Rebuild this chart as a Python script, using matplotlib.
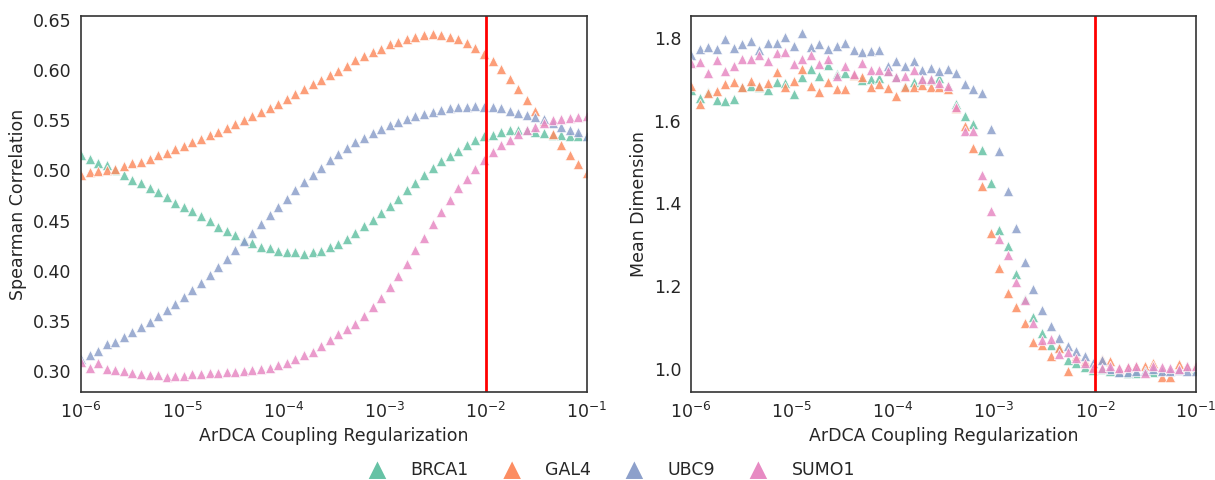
import numpy as np
import matplotlib
matplotlib.use("Agg")
from matplotlib import pyplot as plt
import seaborn as sns

sns.set_style("white")
plt.rcParams['font.family'] = ['DejaVu Sans']

# regularization grid (60 values, 1e-6 .. 1e-1)
reg = np.logspace(-6, -1, 60)

proteins = ["BRCA1", "GAL4", "UBC9", "SUMO1"]

# Spearman correlation (left panel)
spear_brca1 = [0.515, 0.511, 0.507, 0.505, 0.500, 0.495, 0.490, 0.487, 0.482, 0.478,
               0.474, 0.468, 0.464, 0.460, 0.455, 0.450, 0.444, 0.440, 0.436, 0.431,
               0.428, 0.424, 0.423, 0.420, 0.419, 0.419, 0.417, 0.419, 0.420, 0.424,
               0.427, 0.432, 0.438, 0.445, 0.451, 0.458, 0.465, 0.472, 0.480, 0.487,
               0.495, 0.502, 0.509, 0.514, 0.519, 0.525, 0.530, 0.534, 0.535, 0.538,
               0.540, 0.540, 0.540, 0.538, 0.537, 0.535, 0.535, 0.534, 0.534, 0.534]
spear_gal4 = [0.495, 0.498, 0.499, 0.500, 0.501, 0.504, 0.507, 0.508, 0.511, 0.515,
              0.517, 0.521, 0.524, 0.528, 0.531, 0.535, 0.538, 0.542, 0.546, 0.550,
              0.554, 0.558, 0.562, 0.566, 0.571, 0.576, 0.581, 0.586, 0.590, 0.595,
              0.599, 0.604, 0.610, 0.614, 0.618, 0.621, 0.626, 0.628, 0.631, 0.633,
              0.635, 0.636, 0.635, 0.633, 0.631, 0.627, 0.622, 0.616, 0.609, 0.601,
              0.591, 0.581, 0.570, 0.559, 0.549, 0.536, 0.525, 0.515, 0.506, 0.497]
spear_ubc9 = [0.312, 0.316, 0.320, 0.327, 0.329, 0.334, 0.339, 0.344, 0.349, 0.355,
              0.361, 0.367, 0.374, 0.381, 0.388, 0.396, 0.404, 0.412, 0.421, 0.430,
              0.438, 0.447, 0.456, 0.464, 0.472, 0.480, 0.488, 0.495, 0.502, 0.510,
              0.516, 0.522, 0.528, 0.532, 0.537, 0.541, 0.545, 0.548, 0.551, 0.554,
              0.556, 0.558, 0.560, 0.562, 0.563, 0.563, 0.564, 0.563, 0.563, 0.562,
              0.559, 0.557, 0.555, 0.553, 0.551, 0.547, 0.543, 0.540, 0.538, 0.534]
spear_sumo1 = [0.309, 0.303, 0.308, 0.302, 0.301, 0.300, 0.298, 0.297, 0.296, 0.296,
               0.294, 0.295, 0.295, 0.297, 0.297, 0.298, 0.298, 0.299, 0.299, 0.300,
               0.301, 0.302, 0.303, 0.306, 0.308, 0.312, 0.316, 0.319, 0.325, 0.331,
               0.337, 0.342, 0.347, 0.355, 0.364, 0.373, 0.384, 0.395, 0.407, 0.421,
               0.433, 0.447, 0.459, 0.471, 0.482, 0.491, 0.501, 0.510, 0.518, 0.525,
               0.530, 0.536, 0.540, 0.543, 0.547, 0.550, 0.551, 0.552, 0.553, 0.554]

# Mean dimension (right panel)
dim_brca1 = [1.674, 1.654, 1.670, 1.650, 1.648, 1.653, 1.681, 1.684, 1.682, 1.674,
             1.694, 1.691, 1.665, 1.706, 1.724, 1.708, 1.735, 1.713, 1.715, 1.711,
             1.698, 1.701, 1.704, 1.719, 1.706, 1.684, 1.694, 1.698, 1.698, 1.703,
             1.684, 1.640, 1.611, 1.592, 1.529, 1.450, 1.336, 1.296, 1.230, 1.170,
             1.125, 1.086, 1.058, 1.054, 1.022, 1.014, 1.005, 0.998, 1.000, 0.995,
             0.992, 0.990, 0.990, 0.995, 0.993, 0.997, 0.997, 1.003, 1.008, 1.000]
dim_gal4 = [1.684, 1.640, 1.668, 1.672, 1.688, 1.693, 1.682, 1.696, 1.684, 1.691,
            1.717, 1.681, 1.696, 1.724, 1.685, 1.669, 1.693, 1.676, 1.677, 1.711,
            1.706, 1.682, 1.689, 1.680, 1.660, 1.681, 1.681, 1.686, 1.681, 1.681,
            1.676, 1.630, 1.587, 1.535, 1.443, 1.329, 1.243, 1.184, 1.149, 1.112,
            1.066, 1.058, 1.032, 1.051, 0.996, 1.030, 1.020, 1.005, 1.025, 1.018,
            1.000, 1.005, 1.008, 1.008, 1.014, 0.981, 0.981, 1.012, 1.005, 1.010]
dim_ubc9 = [1.759, 1.773, 1.777, 1.773, 1.797, 1.775, 1.785, 1.793, 1.771, 1.789,
            1.787, 1.803, 1.781, 1.811, 1.778, 1.785, 1.773, 1.781, 1.787, 1.771,
            1.765, 1.769, 1.771, 1.733, 1.745, 1.731, 1.745, 1.723, 1.728, 1.719,
            1.725, 1.715, 1.688, 1.676, 1.668, 1.580, 1.527, 1.429, 1.340, 1.258,
            1.193, 1.143, 1.104, 1.074, 1.056, 1.044, 1.031, 1.014, 1.022, 1.000,
            0.992, 0.992, 0.995, 0.995, 1.000, 0.995, 0.995, 0.998, 0.995, 0.995]
dim_sumo1 = [1.740, 1.743, 1.716, 1.747, 1.721, 1.731, 1.749, 1.749, 1.759, 1.745,
             1.763, 1.767, 1.736, 1.749, 1.759, 1.737, 1.749, 1.708, 1.733, 1.713,
             1.739, 1.723, 1.723, 1.719, 1.705, 1.708, 1.723, 1.700, 1.700, 1.692,
             1.685, 1.634, 1.576, 1.574, 1.469, 1.382, 1.314, 1.276, 1.211, 1.167,
             1.112, 1.070, 1.072, 1.036, 1.040, 1.026, 1.015, 1.002, 1.002, 1.006,
             1.002, 1.004, 1.006, 0.990, 1.006, 1.004, 1.002, 0.999, 1.006, 1.006]

spearman = [spear_brca1, spear_gal4, spear_ubc9, spear_sumo1]
dimension = [dim_brca1, dim_gal4, dim_ubc9, dim_sumo1]
colors = sns.color_palette("Set2", 4)
chosen_reg = 1e-2

fig = plt.figure(figsize=(12.15, 4.8), dpi=100)
ax1 = fig.add_axes([0.0667, 0.1833, 0.4163, 0.7833])
ax2 = fig.add_axes([0.5687, 0.1833, 0.4157, 0.7833])

for ax, data in [(ax1, spearman), (ax2, dimension)]:
    for name, vals, c in zip(proteins, data, colors):
        ax.scatter(reg, vals, marker='^', s=55, color=c, alpha=0.85,
                   edgecolor='white', linewidth=0.6, label=name)
    ax.axvline(chosen_reg, color='red', lw=2)
    ax.set_xscale('log')
    ax.set_xlim(1e-6, 1e-1)
    ax.set_xlabel("ArDCA Coupling Regularization", fontsize=12.5)
    ax.tick_params(labelsize=12.5)
    for sp in ax.spines.values():
        sp.set_color('.2')
        sp.set_linewidth(1.2)

ax1.set_ylim(0.279, 0.654)
ax1.set_yticks([0.30, 0.35, 0.40, 0.45, 0.50, 0.55, 0.60, 0.65])
ax1.set_ylabel("Spearman Correlation", fontsize=12.5)
ax2.set_ylim(0.944, 1.853)
ax2.set_yticks([1.0, 1.2, 1.4, 1.6, 1.8])
ax2.set_ylabel("Mean Dimension", fontsize=12.5)

handles, labels = ax1.get_legend_handles_labels()
leg = fig.legend(handles, labels, loc='lower center', ncol=4, frameon=False,
                 bbox_to_anchor=(0.5, -0.03), fontsize=12.5, markerscale=1.7,
                 columnspacing=1.5, handletextpad=0.9)
for h in leg.legend_handles:
    h.set_alpha(1)
    h.set_edgecolor('none')

fig.savefig("out.png", dpi=100)
